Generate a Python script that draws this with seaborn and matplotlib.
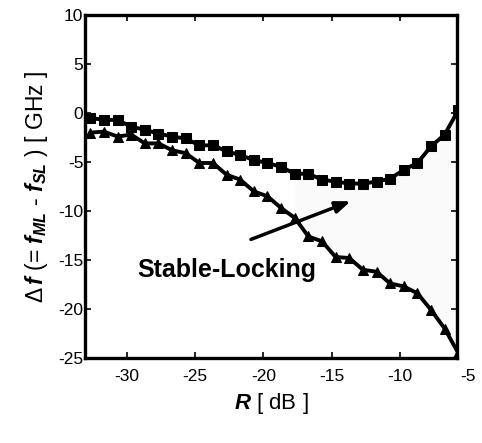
import numpy as np
import pandas as pd
import matplotlib
matplotlib.use("Agg")
import matplotlib.pyplot as plt
import seaborn as sns

# Data
R = [-32.7, -31.7, -30.7, -29.7, -28.7, -27.7, -26.7, -25.7, -24.7, -23.7,
     -22.7, -21.7, -20.7, -19.7, -18.7, -17.7, -16.7, -15.7, -14.7, -13.7,
     -12.7, -11.7, -10.7, -9.7, -8.7, -7.7, -6.7, -5.7]
upper = [-0.5, -0.7, -0.7, -1.4, -1.7, -2.1, -2.4, -2.6, -3.3, -3.3,
         -3.9, -4.3, -4.8, -5.1, -5.5, -6.2, -6.2, -6.8, -7.0, -7.2,
         -7.2, -7.0, -6.7, -5.8, -5.1, -3.4, -2.2, 0.3]
lower = [-2.0, -1.9, -2.4, -2.2, -3.1, -3.1, -3.8, -4.1, -5.1, -5.1,
         -6.3, -6.8, -8.0, -8.5, -9.7, -10.7, -12.6, -13.1, -14.7, -14.8,
         -16.0, -16.2, -17.4, -17.7, -18.4, -20.1, -22.0, -24.5]
xticks = [-30, -25, -20, -15, -10]
yticks = [10, 5, 0, -5, -10, -15, -20, -25]

sns.set_style("ticks")
plt.rcParams['font.family'] = ['Liberation Sans', 'DejaVu Sans']
plt.rcParams['text.color'] = 'black'
plt.rcParams['axes.labelcolor'] = 'black'
plt.rcParams['xtick.color'] = 'black'
plt.rcParams['ytick.color'] = 'black'
plt.rcParams['axes.edgecolor'] = 'black'
plt.rcParams['mathtext.fontset'] = 'custom'
plt.rcParams['mathtext.rm'] = 'Liberation Sans'
plt.rcParams['mathtext.it'] = 'Liberation Sans:italic:bold'
plt.rcParams['xtick.direction'] = 'in'
plt.rcParams['ytick.direction'] = 'in'

df = pd.DataFrame({'R': R + R, 'df': upper + lower,
                   'series': ['upper'] * len(R) + ['lower'] * len(R)})

fig = plt.figure(figsize=(4.82, 4.43), dpi=100)
ax = fig.add_axes([0.176, 0.192, 0.772, 0.774])

# faint stable-locking region
Ra = np.array(R); ua = np.array(upper); la = np.array(lower)
mask = Ra >= -18
ax.fill_between(Ra[mask], la[mask], ua[mask], color='#fafafa', lw=0, zorder=0)

sns.lineplot(data=df[df.series == 'upper'], x='R', y='df', ax=ax, color='black',
             lw=2.8, marker='s', markersize=6.5, markeredgecolor='black', legend=False)
sns.lineplot(data=df[df.series == 'lower'], x='R', y='df', ax=ax, color='black',
             lw=2.8, marker='^', markersize=7.5, markeredgecolor='black', legend=False)

ax.set_xlim(-33.1, -5.8)
ax.set_ylim(-25, 10)
ax.set_xticks(xticks)
ax.set_yticks(yticks)
ax.set_xticklabels([str(t) for t in xticks], fontsize=12.5)
ax.set_yticklabels([str(t) for t in yticks], fontsize=12.5)
ax.annotate("-5", xy=(-5, 0), xycoords=('data', 'axes fraction'),
            xytext=(0, -8), textcoords='offset points', ha='center', va='top',
            fontsize=12.5, annotation_clip=False)
ax.tick_params(axis='both', which='both', top=True, right=True, length=4,
               width=1.2, pad=1)
ax.tick_params(axis='x', pad=8)
for s in ax.spines.values():
    s.set_linewidth(2.4)
    s.set_visible(True)

ax.set_xlabel(r'$\mathit{R}$ [ dB ]', fontsize=16, labelpad=5)
ax.set_ylabel(r'$\Delta\,\mathit{f}$ (= $\mathit{f}_{ML}$ - $\mathit{f}_{SL}$ ) [ GHz ]',
              fontsize=16.5, labelpad=6)

ax.text(-22.7, -16.0, 'Stable-Locking', fontsize=18, fontweight='bold',
        ha='center', va='center')
ax.annotate('', xy=(-13.4, -8.9), xytext=(-21.1, -13.0),
            arrowprops=dict(arrowstyle='-|>,head_length=0.9,head_width=0.35',
                            lw=2.5, color='black'))

fig.savefig('out.png', dpi=100)
